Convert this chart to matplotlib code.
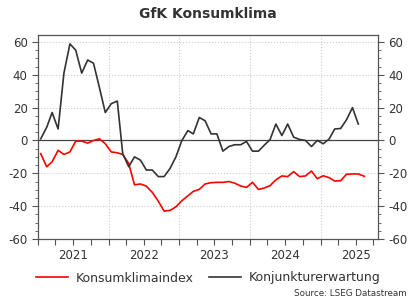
import matplotlib
matplotlib.use('Agg')
import matplotlib.pyplot as plt
import pandas as pd
from matplotlib.ticker import MultipleLocator

# monthly values, Jan 2021 onwards
konsumklima = [-8, -16, -13, -6, -8.5, -7, -0.4, -0.4, -1.6, 0, 1, -2,
               -7, -7.5, -8.5, -14, -27, -26.5, -27.8, -31.6, -37, -43, -42.6, -40.4,
               -36.7, -33.7, -31, -29.8, -26.5, -25.7, -25.5, -25.5, -25, -26, -27.7, -28.6,
               -25.5, -29.8, -29, -27.5, -24, -21.6, -22, -19, -22, -21.6, -18.6, -23.3,
               -21.5, -22.7, -24.7, -24.5, -20.6, -20.4, -20.4, -21.8]
konjunktur = [1, 8, 17, 7, 41, 58.8, 55, 41, 49, 47, 32, 17,
              22.4, 24, -8, -16, -10, -12, -18, -18, -22, -22, -17, -10,
              0, 6, 4, 14, 12, 4, 4, -6.5, -3.7, -2.6, -2.6, -0.6,
              -6.5, -6.5, -3, 0.6, 10, 3, 10, 2, 0.6, 0, -3.7, 0,
              -2, 1, 7, 7.3, 12.6, 20, 10]
years = [2021, 2022, 2023, 2024, 2025]

dates_k = pd.date_range('2021-01-01', periods=len(konsumklima), freq='MS') + pd.Timedelta(days=14)
dates_j = dates_k[:len(konjunktur)]

fig = plt.figure(figsize=(4.16, 3.02), dpi=100)
ax = fig.add_axes([38/416, 1-239/302, 340/416, (239-34.7)/302])

grey = '#555555'
for y in years[1:]:
    ax.axvline(pd.Timestamp(f'{y}-01-01'), color='#cccccc', linestyle=':', linewidth=0.8, zorder=0)
for v in [-40, -20, 20, 40, 60]:
    ax.axhline(v, color='#cccccc', linestyle=':', linewidth=0.8, zorder=0)
ax.axhline(0, color='#444444', linewidth=0.9, zorder=1)

l1, = ax.plot(dates_k, konsumklima, color='#ff0000', linewidth=1.2, label='Konsumklimaindex', zorder=3)
l2, = ax.plot(dates_j, konjunktur, color='#333333', linewidth=1.2, label='Konjunkturerwartung', zorder=3)

ax.set_xlim(pd.Timestamp('2021-01-01'), pd.Timestamp('2025-10-25'))
ax.set_ylim(-60, 64.4)
ax.yaxis.set_major_locator(MultipleLocator(20))
ax.yaxis.set_minor_locator(MultipleLocator(5))
ax.set_yticks(range(-60, 61, 20))
ax.set_yticklabels([str(v) for v in range(-60, 61, 20)])
ax.tick_params(axis='y', which='both', left=True, right=True, labelleft=True, labelright=True,
               direction='out', colors=grey, labelcolor='#333333', labelsize=8.5)
ax.tick_params(axis='y', which='major', length=4)
ax.tick_params(axis='y', which='minor', length=2)

ax.xaxis.remove_overlapping_locs = False
quarters = pd.date_range('2021-01-01', '2025-10-01', freq='QS')
ax.set_xticks(quarters)
ax.set_xticklabels([''] * len(quarters))
ax.tick_params(axis='x', which='major', length=4, direction='out', color=grey)
ax.set_xticks([pd.Timestamp(f'{y}-07-01') for y in years], minor=True)
ax.set_xticklabels([str(y) for y in years], minor=True)
ax.tick_params(axis='x', which='minor', length=0, labelsize=8.5, labelcolor='#333333', pad=7)

for s in ax.spines.values():
    s.set_color(grey)
    s.set_linewidth(0.9)

fig.text(0.5, 1-14/302, 'GfK Konsumklima', ha='center', va='center', fontsize=10,
         fontweight='bold', color='#333333')
fig.legend(handles=[l1, l2], loc='center', bbox_to_anchor=(0.5, 1-278/302), ncol=2,
           frameon=False, fontsize=9, handlelength=2.6, columnspacing=1.2,
           handletextpad=0.6, labelcolor='#333333')
fig.text(407/416, 1-294/302, 'Source: LSEG Datastream', ha='right', va='center',
         fontsize=6.3, color='#333333')

fig.savefig('out.png', dpi=100)
